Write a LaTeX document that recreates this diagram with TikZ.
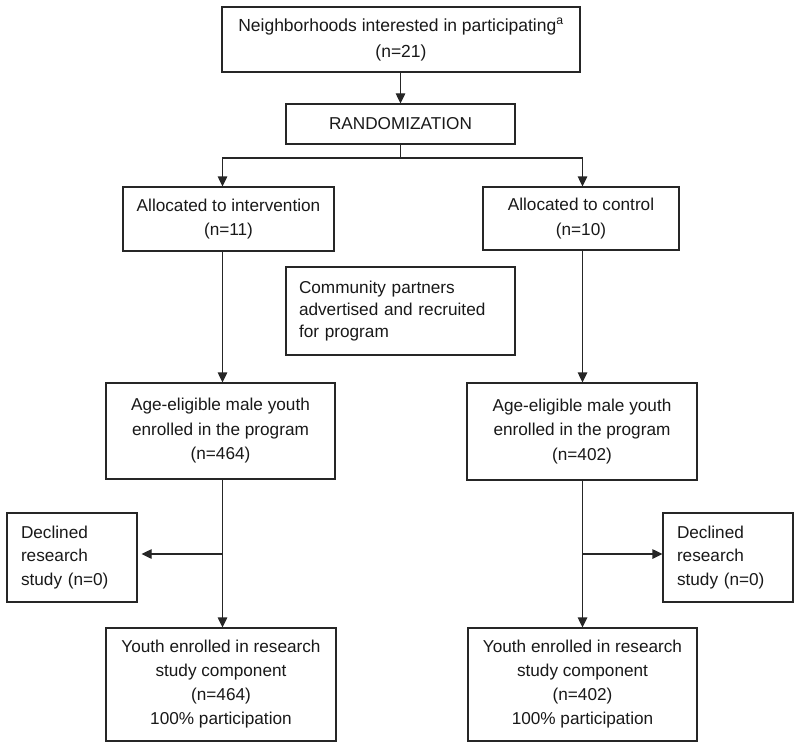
\documentclass[tikz,border=0pt]{standalone}
\usepackage{fontspec}
\setmainfont{Liberation Sans}
\usetikzlibrary{arrows.meta,calc}
\tikzset{
  box/.style={draw=black!85, line width=1.2pt, inner sep=0pt, align=center,
    font=\fontsize{17.2}{24.5}\selectfont, text=black!90},
  lbox/.style={box, align=left, inner xsep=13pt},
  conn/.style={draw=black!85, line width=1.2pt},
  arr/.style={conn, -{Triangle[length=10pt,width=9.5pt]}}
}
\begin{document}
\begin{tikzpicture}[x=1pt,y=-1pt]
\useasboundingbox (0,0) rectangle (800,749);
\fill[white] (0,0) rectangle (800,749);
% nodes
\node[box, minimum width=358pt, minimum height=65pt, font=\fontsize{17.5}{26}\selectfont] (top) at (401,39.5)
  {Neighborhoods interested in participating\textsuperscript{a}\\(n=21)};
\node[box, minimum width=229pt, minimum height=40pt] (rand) at (400.5,124) {RANDOMIZATION};
\node[box, minimum width=211pt, minimum height=64pt] (intv) at (228.5,219) {Allocated to intervention\\(n=11)};
\node[box, minimum width=196pt, minimum height=63pt] (ctrl) at (581,218.5) {Allocated to control\\(n=10)};
\node[lbox, text width=203pt, minimum height=88pt, font=\fontsize{17.2}{22}\selectfont] (comm) at (400.5,311)
  {Community partners\\advertised and recruited\\for program};
\node[box, minimum width=229pt, minimum height=96pt] (ageL) at (220.5,431) {Age-eligible male youth\\enrolled in the program\\(n=464)};
\node[box, minimum width=230pt, minimum height=97pt] (ageR) at (582,431.5) {Age-eligible male youth\\enrolled in the program\\(n=402)};
\node[lbox, inner xsep=14pt, text width=102pt, minimum height=89pt, font=\fontsize{17.2}{23.5}\selectfont] (decL) at (72,557.5)
  {Declined\\research\\study (n=0)};
\node[lbox, inner xsep=14pt, text width=102pt, minimum height=89pt, font=\fontsize{17.2}{23.5}\selectfont] (decR) at (728,557.5)
  {Declined\\research\\study (n=0)};
\node[box, minimum width=230pt, minimum height=113pt, font=\fontsize{17.2}{24}\selectfont] (youL) at (221,684.5)
  {Youth enrolled in research\\study component\\(n=464)\\100\% participation};
\node[box, minimum width=229pt, minimum height=113pt, font=\fontsize{17.2}{24}\selectfont] (youR) at (582.5,684.5)
  {Youth enrolled in research\\study component\\(n=402)\\100\% participation};
% helper coordinates
\coordinate (colL) at (222.5,0);
\coordinate (colR) at (582.5,0);
\coordinate (split) at (400.5,158);
\coordinate (brL) at (222.5,554);
\coordinate (brR) at (582.5,554);
% connectors
\draw[arr] (top.south -| rand.north) -- (rand.north);
\draw[conn] (rand.south) -- (split);
\draw[arr] (split) -| (intv.north -| colL);
\draw[arr] (split) -| (ctrl.north -| colR);
\draw[arr] (intv.south -| colL) -- (ageL.north -| colL);
\draw[arr] (ctrl.south -| colR) -- (ageR.north -| colR);
\draw[arr] (ageL.south -| colL) -- (youL.north -| colL);
\draw[arr] (ageR.south -| colR) -- (youR.north -| colR);
\draw[arr, shorten >=4pt] (brL) -- (decL.east |- brL);
\draw[arr] (brR) -- (decR.west |- brR);
\end{tikzpicture}
\end{document}
